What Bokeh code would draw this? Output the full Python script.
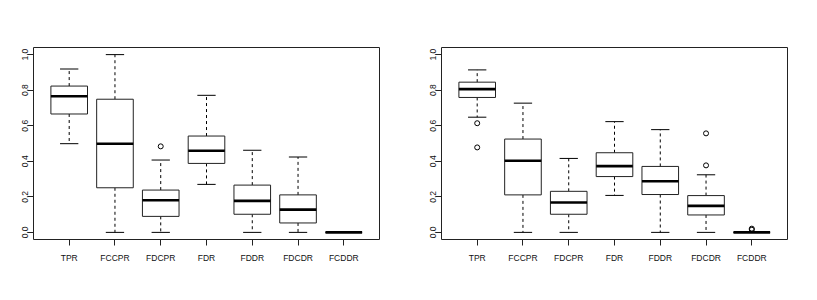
from bokeh.plotting import figure
from bokeh.layouts import row
from bokeh.models import FixedTicker, NumeralTickFormatter, Range1d
from bokeh.embed import file_html
from bokeh.resources import INLINE

categories = ["TPR", "FCCPR", "FDCPR", "FDR", "FDDR", "FDCDR", "FCDDR"]

# Panel 1 five-number summaries
p1_low = [0.499, 0.000, 0.000, 0.270, 0.000, 0.000, 0.0]
p1_q1 = [0.666, 0.251, 0.090, 0.388, 0.102, 0.053, 0.0]
p1_med = [0.766, 0.499, 0.181, 0.459, 0.177, 0.128, 0.0]
p1_q3 = [0.823, 0.749, 0.238, 0.542, 0.266, 0.211, 0.0]
p1_high = [0.919, 1.000, 0.407, 0.771, 0.462, 0.424, 0.0]
p1_out_cat = [3]
p1_out_val = [0.484]

# Panel 2 five-number summaries
p2_low = [0.648, 0.000, 0.000, 0.208, 0.000, 0.000, 0.0]
p2_q1 = [0.759, 0.211, 0.102, 0.314, 0.213, 0.098, 0.0]
p2_med = [0.806, 0.403, 0.168, 0.373, 0.288, 0.149, 0.0]
p2_q3 = [0.845, 0.525, 0.231, 0.448, 0.371, 0.207, 0.0]
p2_high = [0.914, 0.727, 0.416, 0.623, 0.578, 0.324, 0.0]
p2_out_cat = [1, 1, 6, 6, 7, 7]
p2_out_val = [0.614, 0.478, 0.557, 0.377, 0.021, 0.015]

y_ticks = [0.0, 0.2, 0.4, 0.6, 0.8, 1.0]

FONT = "'Liberation Sans Narrow', 'Liberation Sans', Arial, sans-serif"


def make_panel(low, q1, med, q3, high, out_cat, out_val, left_border, right_border):
    n = len(categories)
    xs = list(range(1, n + 1))
    p = figure(
        output_backend="svg", toolbar_location=None,
        frame_width=346, frame_height=192,
        min_border_left=left_border, min_border_right=right_border,
        min_border_top=47, min_border_bottom=45,
        x_range=Range1d(0.22, 7.78), y_range=Range1d(-0.04, 1.04),
    )
    p.background_fill_color = "white"
    p.border_fill_color = "white"
    p.outline_line_color = "#222222"
    p.outline_line_width = 1
    p.xgrid.visible = False
    p.ygrid.visible = False

    bw = 0.4
    sw = 0.2
    # whiskers
    p.segment(x0=xs, y0=q3, x1=xs, y1=high, line_color="black", line_width=1, line_dash="3 3")
    p.segment(x0=xs, y0=q1, x1=xs, y1=low, line_color="black", line_width=1, line_dash="3 3")
    # staples
    p.segment(x0=[x - sw for x in xs], y0=high, x1=[x + sw for x in xs], y1=high,
              line_color="black", line_width=1)
    p.segment(x0=[x - sw for x in xs], y0=low, x1=[x + sw for x in xs], y1=low,
              line_color="black", line_width=1)
    # boxes
    p.quad(left=[x - bw for x in xs], right=[x + bw for x in xs], bottom=q1, top=q3,
           fill_color="white", line_color="#222222", line_width=1)
    # medians
    p.segment(x0=[x - bw for x in xs], y0=med, x1=[x + bw for x in xs], y1=med,
              line_color="black", line_width=2.6)
    # outliers
    p.scatter(x=out_cat, y=out_val, marker="circle", size=5, fill_color=None,
              line_color="black", line_width=1)

    p.xaxis.ticker = FixedTicker(ticks=xs)
    p.xaxis.major_label_overrides = {x: c for x, c in zip(xs, categories)}
    p.yaxis.ticker = FixedTicker(ticks=y_ticks)
    p.yaxis.formatter = NumeralTickFormatter(format="0.0")
    p.yaxis.major_label_orientation = "vertical"
    for ax in (p.xaxis[0], p.yaxis[0]):
        ax.axis_line_color = None
        ax.major_tick_line_color = "#222222"
        ax.major_tick_out = 6
        ax.major_tick_in = 0
        ax.minor_tick_line_color = None
        ax.major_label_text_font = FONT
        ax.major_label_text_font_size = "8.5px"
        ax.major_label_text_color = "#111111"
    p.xaxis.major_label_standoff = 7
    p.yaxis.major_label_standoff = -1
    return p


p1 = make_panel(p1_low, p1_q1, p1_med, p1_q3, p1_high, p1_out_cat, p1_out_val, 33, 21)
p2 = make_panel(p2_low, p2_q1, p2_med, p2_q3, p2_high, p2_out_cat, p2_out_val, 41, 13)

layout = row(p1, p2, spacing=0)
open("out.html", "w").write(file_html(layout, INLINE))
